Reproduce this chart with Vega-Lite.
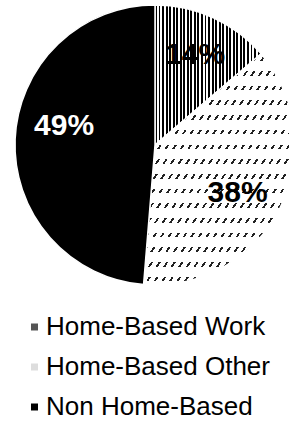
{
  "$schema": "https://vega.github.io/schema/vega-lite/v6.json",
  "width": 268,
  "height": 290,
  "autosize": {"type": "none"},
  "padding": {"left": 21, "top": 0, "right": 0, "bottom": 131},
  "background": "#ffffff",
  "config": {"view": {"stroke": null}},
  "data": {
    "values": [
      {"category": "Home-Based Work", "share": 13.7, "order": 1, "label": "14%"},
      {"category": "Home-Based Other", "share": 37.6, "order": 2, "label": "38%"},
      {"category": "Non Home-Based", "share": 48.7, "order": 3, "label": "49%"}
    ]
  },
  "encoding": {
    "theta": {"field": "share", "type": "quantitative", "stack": true},
    "order": {"field": "order", "type": "quantitative"}
  },
  "layer": [
    {
      "mark": {"type": "arc", "outerRadius": 140},
      "encoding": {
        "color": {
          "field": "category",
          "type": "nominal",
          "scale": {"domain": ["Home-Based Work", "Home-Based Other", "Non Home-Based"], "range": ["#555555", "#dddddd", "#000000"]},
          "legend": {
            "orient": "none",
            "legendX": 0.5,
            "legendY": 314,
            "title": null,
            "padding": 0,
            "symbolType": "square",
            "symbolSize": 49,
            "symbolStrokeWidth": 0,
            "labelFont": "Liberation Sans",
            "labelFontSize": 26,
            "labelColor": "#000000",
            "labelOffset": -1.5,
            "rowPadding": 14,
            "labelLimit": 400,
            "encode": {
              "symbols": {
                "update": {
                  "fill": [
                    {"test": "datum.value === 'Home-Based Work'", "value": {"gradient": "linear", "x1": 0, "y1": 0, "x2": 1, "y2": 0, "stops": [
                      {"offset": 0, "color": "#000"}, {"offset": 0.2, "color": "#000"}, {"offset": 0.2, "color": "#fff"}, {"offset": 0.4, "color": "#fff"},
                      {"offset": 0.4, "color": "#000"}, {"offset": 0.6, "color": "#000"}, {"offset": 0.6, "color": "#fff"}, {"offset": 0.8, "color": "#fff"},
                      {"offset": 0.8, "color": "#000"}, {"offset": 1, "color": "#000"}]}},
                    {"test": "datum.value === 'Home-Based Other'", "value": "#dddddd"},
                    {"value": "#000000"}
                  ]
                }
              }
            }
          }
        }
      }
    },
    {
      "mark": {"type": "arc", "outerRadius": 140, "stroke": "#ffffff", "strokeWidth": 1.5},
      "encoding": {
        "fill": {
          "condition": [
            {"test": "datum.category === 'Home-Based Work'", "value": {"gradient": "linear", "x1": 0, "y1": 0, "x2": 1, "y2": 0, "stops": [
              {"offset": 0, "color": "#000"}, {"offset": 0.0183, "color": "#000"}, {"offset": 0.0183, "color": "#fff"}, {"offset": 0.0333, "color": "#fff"},
              {"offset": 0.0333, "color": "#000"}, {"offset": 0.0517, "color": "#000"}, {"offset": 0.0517, "color": "#fff"}, {"offset": 0.0667, "color": "#fff"},
              {"offset": 0.0667, "color": "#000"}, {"offset": 0.085, "color": "#000"}, {"offset": 0.085, "color": "#fff"}, {"offset": 0.1, "color": "#fff"},
              {"offset": 0.1, "color": "#000"}, {"offset": 0.1183, "color": "#000"}, {"offset": 0.1183, "color": "#fff"}, {"offset": 0.1333, "color": "#fff"},
              {"offset": 0.1333, "color": "#000"}, {"offset": 0.1517, "color": "#000"}, {"offset": 0.1517, "color": "#fff"}, {"offset": 0.1667, "color": "#fff"},
              {"offset": 0.1667, "color": "#000"}, {"offset": 0.185, "color": "#000"}, {"offset": 0.185, "color": "#fff"}, {"offset": 0.2, "color": "#fff"},
              {"offset": 0.2, "color": "#000"}, {"offset": 0.2183, "color": "#000"}, {"offset": 0.2183, "color": "#fff"}, {"offset": 0.2333, "color": "#fff"},
              {"offset": 0.2333, "color": "#000"}, {"offset": 0.2517, "color": "#000"}, {"offset": 0.2517, "color": "#fff"}, {"offset": 0.2667, "color": "#fff"},
              {"offset": 0.2667, "color": "#000"}, {"offset": 0.285, "color": "#000"}, {"offset": 0.285, "color": "#fff"}, {"offset": 0.3, "color": "#fff"},
              {"offset": 0.3, "color": "#000"}, {"offset": 0.3183, "color": "#000"}, {"offset": 0.3183, "color": "#fff"}, {"offset": 0.3333, "color": "#fff"},
              {"offset": 0.3333, "color": "#000"}, {"offset": 0.3517, "color": "#000"}, {"offset": 0.3517, "color": "#fff"}, {"offset": 0.3667, "color": "#fff"},
              {"offset": 0.3667, "color": "#000"}, {"offset": 0.385, "color": "#000"}, {"offset": 0.385, "color": "#fff"}, {"offset": 0.4, "color": "#fff"},
              {"offset": 0.4, "color": "#000"}, {"offset": 0.4183, "color": "#000"}, {"offset": 0.4183, "color": "#fff"}, {"offset": 0.4333, "color": "#fff"},
              {"offset": 0.4333, "color": "#000"}, {"offset": 0.4517, "color": "#000"}, {"offset": 0.4517, "color": "#fff"}, {"offset": 0.4667, "color": "#fff"},
              {"offset": 0.4667, "color": "#000"}, {"offset": 0.485, "color": "#000"}, {"offset": 0.485, "color": "#fff"}, {"offset": 0.5, "color": "#fff"},
              {"offset": 0.5, "color": "#000"}, {"offset": 0.5183, "color": "#000"}, {"offset": 0.5183, "color": "#fff"}, {"offset": 0.5333, "color": "#fff"},
              {"offset": 0.5333, "color": "#000"}, {"offset": 0.5517, "color": "#000"}, {"offset": 0.5517, "color": "#fff"}, {"offset": 0.5667, "color": "#fff"},
              {"offset": 0.5667, "color": "#000"}, {"offset": 0.585, "color": "#000"}, {"offset": 0.585, "color": "#fff"}, {"offset": 0.6, "color": "#fff"},
              {"offset": 0.6, "color": "#000"}, {"offset": 0.6183, "color": "#000"}, {"offset": 0.6183, "color": "#fff"}, {"offset": 0.6333, "color": "#fff"},
              {"offset": 0.6333, "color": "#000"}, {"offset": 0.6517, "color": "#000"}, {"offset": 0.6517, "color": "#fff"}, {"offset": 0.6667, "color": "#fff"},
              {"offset": 0.6667, "color": "#000"}, {"offset": 0.685, "color": "#000"}, {"offset": 0.685, "color": "#fff"}, {"offset": 0.7, "color": "#fff"},
              {"offset": 0.7, "color": "#000"}, {"offset": 0.7183, "color": "#000"}, {"offset": 0.7183, "color": "#fff"}, {"offset": 0.7333, "color": "#fff"},
              {"offset": 0.7333, "color": "#000"}, {"offset": 0.7517, "color": "#000"}, {"offset": 0.7517, "color": "#fff"}, {"offset": 0.7667, "color": "#fff"},
              {"offset": 0.7667, "color": "#000"}, {"offset": 0.785, "color": "#000"}, {"offset": 0.785, "color": "#fff"}, {"offset": 0.8, "color": "#fff"},
              {"offset": 0.8, "color": "#000"}, {"offset": 0.8183, "color": "#000"}, {"offset": 0.8183, "color": "#fff"}, {"offset": 0.8333, "color": "#fff"},
              {"offset": 0.8333, "color": "#000"}, {"offset": 0.8517, "color": "#000"}, {"offset": 0.8517, "color": "#fff"}, {"offset": 0.8667, "color": "#fff"},
              {"offset": 0.8667, "color": "#000"}, {"offset": 0.885, "color": "#000"}, {"offset": 0.885, "color": "#fff"}, {"offset": 0.9, "color": "#fff"},
              {"offset": 0.9, "color": "#000"}, {"offset": 0.9183, "color": "#000"}, {"offset": 0.9183, "color": "#fff"}, {"offset": 0.9333, "color": "#fff"},
              {"offset": 0.9333, "color": "#000"}, {"offset": 0.9517, "color": "#000"}, {"offset": 0.9517, "color": "#fff"}, {"offset": 0.9667, "color": "#fff"},
              {"offset": 0.9667, "color": "#000"}, {"offset": 0.985, "color": "#000"}, {"offset": 0.985, "color": "#fff"}, {"offset": 1, "color": "#fff"}
            ]}},
            {"test": "datum.category === 'Home-Based Other'", "value": {"gradient": "linear", "x1": 0, "y1": 0, "x2": 0, "y2": 1, "stops": [
              {"offset": 0, "color": "#fff"},
              {"offset": 0.0112, "color": "#fff"}, {"offset": 0.0112, "color": "#222"}, {"offset": 0.0311, "color": "#222"}, {"offset": 0.0311, "color": "#fff"},
              {"offset": 0.0748, "color": "#fff"}, {"offset": 0.0748, "color": "#222"}, {"offset": 0.0947, "color": "#222"}, {"offset": 0.0947, "color": "#fff"},
              {"offset": 0.1383, "color": "#fff"}, {"offset": 0.1383, "color": "#222"}, {"offset": 0.1582, "color": "#222"}, {"offset": 0.1582, "color": "#fff"},
              {"offset": 0.2019, "color": "#fff"}, {"offset": 0.2019, "color": "#222"}, {"offset": 0.2218, "color": "#222"}, {"offset": 0.2218, "color": "#fff"},
              {"offset": 0.2655, "color": "#fff"}, {"offset": 0.2655, "color": "#222"}, {"offset": 0.2853, "color": "#222"}, {"offset": 0.2853, "color": "#fff"},
              {"offset": 0.329, "color": "#fff"}, {"offset": 0.329, "color": "#222"}, {"offset": 0.3489, "color": "#222"}, {"offset": 0.3489, "color": "#fff"},
              {"offset": 0.3926, "color": "#fff"}, {"offset": 0.3926, "color": "#222"}, {"offset": 0.4124, "color": "#222"}, {"offset": 0.4124, "color": "#fff"},
              {"offset": 0.4561, "color": "#fff"}, {"offset": 0.4561, "color": "#222"}, {"offset": 0.476, "color": "#222"}, {"offset": 0.476, "color": "#fff"},
              {"offset": 0.5197, "color": "#fff"}, {"offset": 0.5197, "color": "#222"}, {"offset": 0.5396, "color": "#222"}, {"offset": 0.5396, "color": "#fff"},
              {"offset": 0.5832, "color": "#fff"}, {"offset": 0.5832, "color": "#222"}, {"offset": 0.6031, "color": "#222"}, {"offset": 0.6031, "color": "#fff"},
              {"offset": 0.6468, "color": "#fff"}, {"offset": 0.6468, "color": "#222"}, {"offset": 0.6667, "color": "#222"}, {"offset": 0.6667, "color": "#fff"},
              {"offset": 0.7103, "color": "#fff"}, {"offset": 0.7103, "color": "#222"}, {"offset": 0.7302, "color": "#222"}, {"offset": 0.7302, "color": "#fff"},
              {"offset": 0.7739, "color": "#fff"}, {"offset": 0.7739, "color": "#222"}, {"offset": 0.7938, "color": "#222"}, {"offset": 0.7938, "color": "#fff"},
              {"offset": 0.8374, "color": "#fff"}, {"offset": 0.8374, "color": "#222"}, {"offset": 0.8573, "color": "#222"}, {"offset": 0.8573, "color": "#fff"},
              {"offset": 0.901, "color": "#fff"}, {"offset": 0.901, "color": "#222"}, {"offset": 0.9209, "color": "#222"}, {"offset": 0.9209, "color": "#fff"},
              {"offset": 0.9645, "color": "#fff"}, {"offset": 0.9645, "color": "#222"}, {"offset": 0.9844, "color": "#222"}, {"offset": 0.9844, "color": "#fff"},
              {"offset": 1, "color": "#fff"}
            ]}}
          ],
          "value": "#000000"
        }
      }
    },
    {
      "mark": {"type": "arc", "outerRadius": 140},
      "encoding": {
        "fill": {
          "condition": {"test": "datum.category === 'Home-Based Other'", "value": {"gradient": "linear", "x1": 0, "y1": 0, "x2": 1, "y2": 1, "stops": [
            {"offset": 0, "color": "rgba(255,255,255,0)"}, {"offset": 0.0075, "color": "rgba(255,255,255,0)"}, {"offset": 0.0075, "color": "#fff"}, {"offset": 0.025, "color": "#fff"},
            {"offset": 0.025, "color": "rgba(255,255,255,0)"}, {"offset": 0.0325, "color": "rgba(255,255,255,0)"}, {"offset": 0.0325, "color": "#fff"}, {"offset": 0.05, "color": "#fff"},
            {"offset": 0.05, "color": "rgba(255,255,255,0)"}, {"offset": 0.0575, "color": "rgba(255,255,255,0)"}, {"offset": 0.0575, "color": "#fff"}, {"offset": 0.075, "color": "#fff"},
            {"offset": 0.075, "color": "rgba(255,255,255,0)"}, {"offset": 0.0825, "color": "rgba(255,255,255,0)"}, {"offset": 0.0825, "color": "#fff"}, {"offset": 0.1, "color": "#fff"},
            {"offset": 0.1, "color": "rgba(255,255,255,0)"}, {"offset": 0.1075, "color": "rgba(255,255,255,0)"}, {"offset": 0.1075, "color": "#fff"}, {"offset": 0.125, "color": "#fff"},
            {"offset": 0.125, "color": "rgba(255,255,255,0)"}, {"offset": 0.1325, "color": "rgba(255,255,255,0)"}, {"offset": 0.1325, "color": "#fff"}, {"offset": 0.15, "color": "#fff"},
            {"offset": 0.15, "color": "rgba(255,255,255,0)"}, {"offset": 0.1575, "color": "rgba(255,255,255,0)"}, {"offset": 0.1575, "color": "#fff"}, {"offset": 0.175, "color": "#fff"},
            {"offset": 0.175, "color": "rgba(255,255,255,0)"}, {"offset": 0.1825, "color": "rgba(255,255,255,0)"}, {"offset": 0.1825, "color": "#fff"}, {"offset": 0.2, "color": "#fff"},
            {"offset": 0.2, "color": "rgba(255,255,255,0)"}, {"offset": 0.2075, "color": "rgba(255,255,255,0)"}, {"offset": 0.2075, "color": "#fff"}, {"offset": 0.225, "color": "#fff"},
            {"offset": 0.225, "color": "rgba(255,255,255,0)"}, {"offset": 0.2325, "color": "rgba(255,255,255,0)"}, {"offset": 0.2325, "color": "#fff"}, {"offset": 0.25, "color": "#fff"},
            {"offset": 0.25, "color": "rgba(255,255,255,0)"}, {"offset": 0.2575, "color": "rgba(255,255,255,0)"}, {"offset": 0.2575, "color": "#fff"}, {"offset": 0.275, "color": "#fff"},
            {"offset": 0.275, "color": "rgba(255,255,255,0)"}, {"offset": 0.2825, "color": "rgba(255,255,255,0)"}, {"offset": 0.2825, "color": "#fff"}, {"offset": 0.3, "color": "#fff"},
            {"offset": 0.3, "color": "rgba(255,255,255,0)"}, {"offset": 0.3075, "color": "rgba(255,255,255,0)"}, {"offset": 0.3075, "color": "#fff"}, {"offset": 0.325, "color": "#fff"},
            {"offset": 0.325, "color": "rgba(255,255,255,0)"}, {"offset": 0.3325, "color": "rgba(255,255,255,0)"}, {"offset": 0.3325, "color": "#fff"}, {"offset": 0.35, "color": "#fff"},
            {"offset": 0.35, "color": "rgba(255,255,255,0)"}, {"offset": 0.3575, "color": "rgba(255,255,255,0)"}, {"offset": 0.3575, "color": "#fff"}, {"offset": 0.375, "color": "#fff"},
            {"offset": 0.375, "color": "rgba(255,255,255,0)"}, {"offset": 0.3825, "color": "rgba(255,255,255,0)"}, {"offset": 0.3825, "color": "#fff"}, {"offset": 0.4, "color": "#fff"},
            {"offset": 0.4, "color": "rgba(255,255,255,0)"}, {"offset": 0.4075, "color": "rgba(255,255,255,0)"}, {"offset": 0.4075, "color": "#fff"}, {"offset": 0.425, "color": "#fff"},
            {"offset": 0.425, "color": "rgba(255,255,255,0)"}, {"offset": 0.4325, "color": "rgba(255,255,255,0)"}, {"offset": 0.4325, "color": "#fff"}, {"offset": 0.45, "color": "#fff"},
            {"offset": 0.45, "color": "rgba(255,255,255,0)"}, {"offset": 0.4575, "color": "rgba(255,255,255,0)"}, {"offset": 0.4575, "color": "#fff"}, {"offset": 0.475, "color": "#fff"},
            {"offset": 0.475, "color": "rgba(255,255,255,0)"}, {"offset": 0.4825, "color": "rgba(255,255,255,0)"}, {"offset": 0.4825, "color": "#fff"}, {"offset": 0.5, "color": "#fff"},
            {"offset": 0.5, "color": "rgba(255,255,255,0)"}, {"offset": 0.5075, "color": "rgba(255,255,255,0)"}, {"offset": 0.5075, "color": "#fff"}, {"offset": 0.525, "color": "#fff"},
            {"offset": 0.525, "color": "rgba(255,255,255,0)"}, {"offset": 0.5325, "color": "rgba(255,255,255,0)"}, {"offset": 0.5325, "color": "#fff"}, {"offset": 0.55, "color": "#fff"},
            {"offset": 0.55, "color": "rgba(255,255,255,0)"}, {"offset": 0.5575, "color": "rgba(255,255,255,0)"}, {"offset": 0.5575, "color": "#fff"}, {"offset": 0.575, "color": "#fff"},
            {"offset": 0.575, "color": "rgba(255,255,255,0)"}, {"offset": 0.5825, "color": "rgba(255,255,255,0)"}, {"offset": 0.5825, "color": "#fff"}, {"offset": 0.6, "color": "#fff"},
            {"offset": 0.6, "color": "rgba(255,255,255,0)"}, {"offset": 0.6075, "color": "rgba(255,255,255,0)"}, {"offset": 0.6075, "color": "#fff"}, {"offset": 0.625, "color": "#fff"},
            {"offset": 0.625, "color": "rgba(255,255,255,0)"}, {"offset": 0.6325, "color": "rgba(255,255,255,0)"}, {"offset": 0.6325, "color": "#fff"}, {"offset": 0.65, "color": "#fff"},
            {"offset": 0.65, "color": "rgba(255,255,255,0)"}, {"offset": 0.6575, "color": "rgba(255,255,255,0)"}, {"offset": 0.6575, "color": "#fff"}, {"offset": 0.675, "color": "#fff"},
            {"offset": 0.675, "color": "rgba(255,255,255,0)"}, {"offset": 0.6825, "color": "rgba(255,255,255,0)"}, {"offset": 0.6825, "color": "#fff"}, {"offset": 0.7, "color": "#fff"},
            {"offset": 0.7, "color": "rgba(255,255,255,0)"}, {"offset": 0.7075, "color": "rgba(255,255,255,0)"}, {"offset": 0.7075, "color": "#fff"}, {"offset": 0.725, "color": "#fff"},
            {"offset": 0.725, "color": "rgba(255,255,255,0)"}, {"offset": 0.7325, "color": "rgba(255,255,255,0)"}, {"offset": 0.7325, "color": "#fff"}, {"offset": 0.75, "color": "#fff"},
            {"offset": 0.75, "color": "rgba(255,255,255,0)"}, {"offset": 0.7575, "color": "rgba(255,255,255,0)"}, {"offset": 0.7575, "color": "#fff"}, {"offset": 0.775, "color": "#fff"},
            {"offset": 0.775, "color": "rgba(255,255,255,0)"}, {"offset": 0.7825, "color": "rgba(255,255,255,0)"}, {"offset": 0.7825, "color": "#fff"}, {"offset": 0.8, "color": "#fff"},
            {"offset": 0.8, "color": "rgba(255,255,255,0)"}, {"offset": 0.8075, "color": "rgba(255,255,255,0)"}, {"offset": 0.8075, "color": "#fff"}, {"offset": 0.825, "color": "#fff"},
            {"offset": 0.825, "color": "rgba(255,255,255,0)"}, {"offset": 0.8325, "color": "rgba(255,255,255,0)"}, {"offset": 0.8325, "color": "#fff"}, {"offset": 0.85, "color": "#fff"},
            {"offset": 0.85, "color": "rgba(255,255,255,0)"}, {"offset": 0.8575, "color": "rgba(255,255,255,0)"}, {"offset": 0.8575, "color": "#fff"}, {"offset": 0.875, "color": "#fff"},
            {"offset": 0.875, "color": "rgba(255,255,255,0)"}, {"offset": 0.8825, "color": "rgba(255,255,255,0)"}, {"offset": 0.8825, "color": "#fff"}, {"offset": 0.9, "color": "#fff"},
            {"offset": 0.9, "color": "rgba(255,255,255,0)"}, {"offset": 0.9075, "color": "rgba(255,255,255,0)"}, {"offset": 0.9075, "color": "#fff"}, {"offset": 0.925, "color": "#fff"},
            {"offset": 0.925, "color": "rgba(255,255,255,0)"}, {"offset": 0.9325, "color": "rgba(255,255,255,0)"}, {"offset": 0.9325, "color": "#fff"}, {"offset": 0.95, "color": "#fff"},
            {"offset": 0.95, "color": "rgba(255,255,255,0)"}, {"offset": 0.9575, "color": "rgba(255,255,255,0)"}, {"offset": 0.9575, "color": "#fff"}, {"offset": 0.975, "color": "#fff"},
            {"offset": 0.975, "color": "rgba(255,255,255,0)"}, {"offset": 0.9825, "color": "rgba(255,255,255,0)"}, {"offset": 0.9825, "color": "#fff"}, {"offset": 1, "color": "#fff"}
          ]}},
          "value": "transparent"
        }
      }
    },
    {
      "mark": {
        "type": "text", "radius": 96, "font": "Liberation Sans", "fontSize": 30, "fontWeight": "bold", "align": "center", "baseline": "middle",
        "dx": {"expr": "datum.category === 'Non Home-Based' ? 5 : (datum.category === 'Home-Based Other' ? -3 : 0)"},
        "dy": {"expr": "datum.category === 'Non Home-Based' ? -15 : (datum.category === 'Home-Based Other' ? 4 : -3)"}
      },
      "encoding": {
        "text": {"field": "label", "type": "nominal"},
        "color": {"condition": {"test": "datum.category === 'Non Home-Based'", "value": "#ffffff"}, "value": "#000000"}
      }
    }
  ]
}
